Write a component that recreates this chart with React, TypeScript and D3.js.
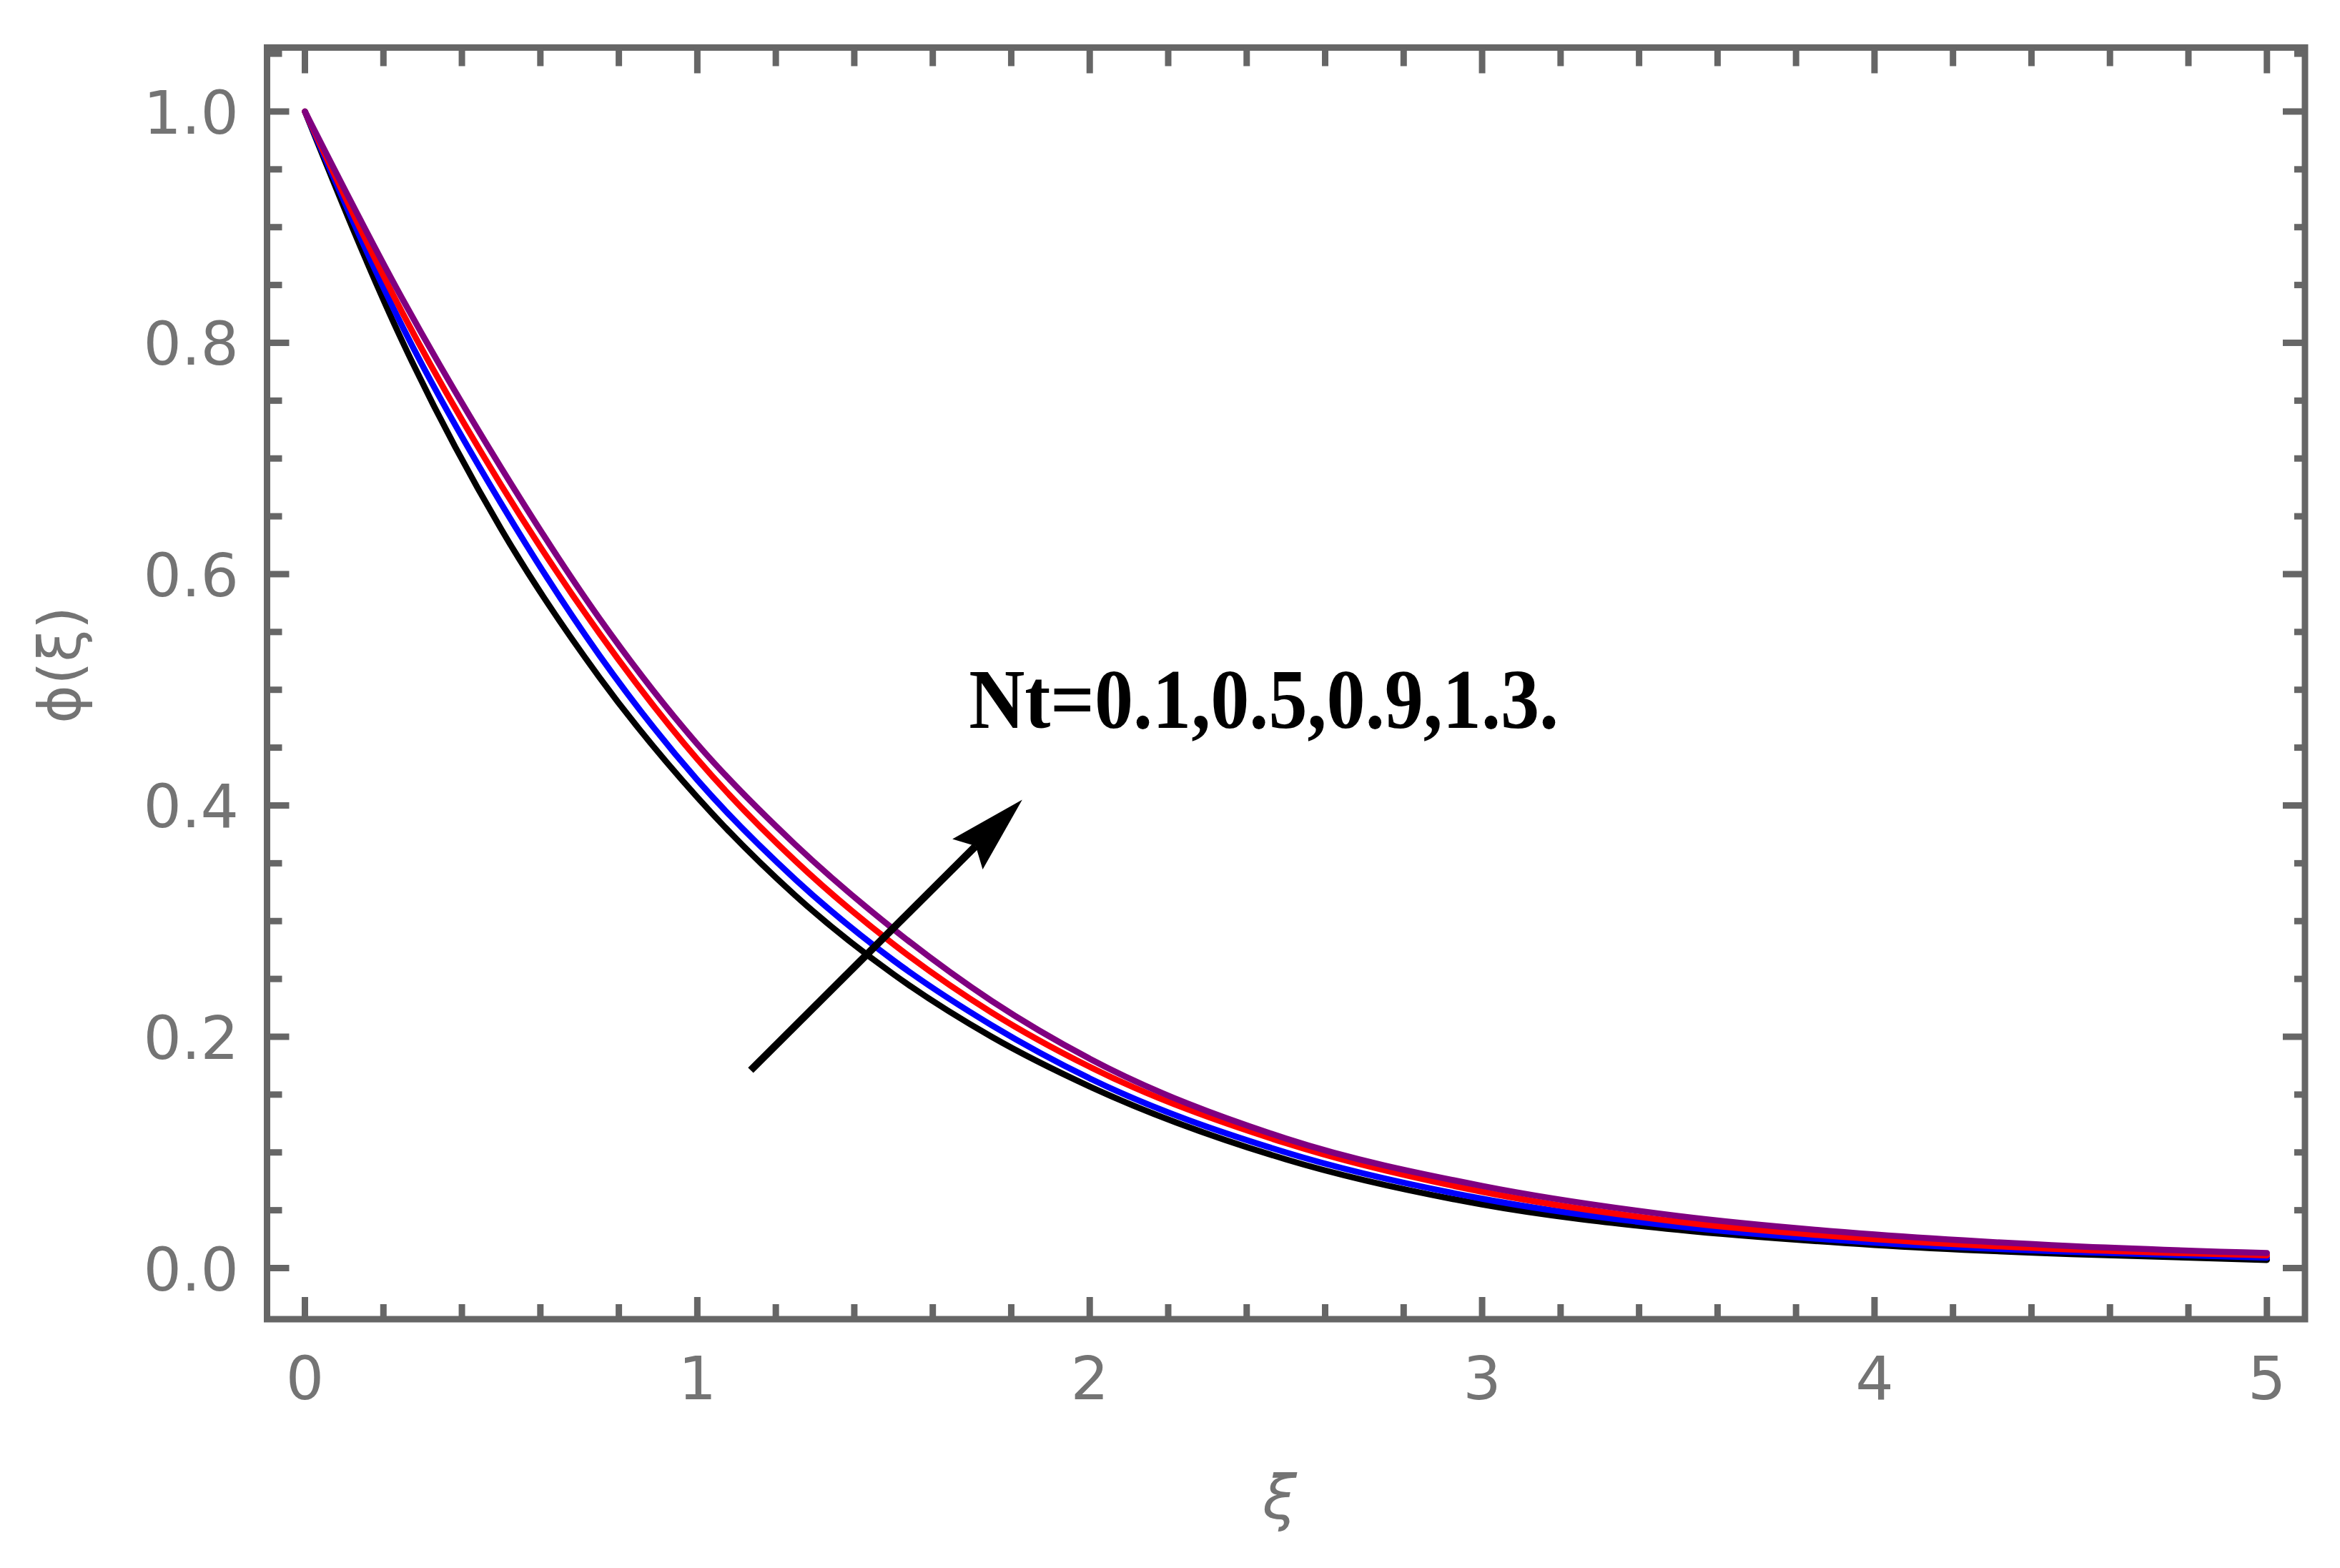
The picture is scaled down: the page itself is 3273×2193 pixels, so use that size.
import * as d3 from 'd3'

// concentration profiles phi(xi) for Nt = 0.1, 0.5, 0.9, 1.3
const xiGrid = [0, 0.25, 0.5, 0.75, 1, 1.25, 1.5, 1.75, 2, 2.5, 3, 3.5, 4, 4.5, 5]
const phiNt01 = [1, 0.8, 0.639, 0.511, 0.407, 0.322, 0.254, 0.2, 0.157, 0.094, 0.055, 0.033, 0.02, 0.012, 0.007]
const phiNt05 = [1, 0.813, 0.661, 0.53, 0.422, 0.336, 0.266, 0.21, 0.164, 0.1, 0.06, 0.036, 0.022, 0.014, 0.009]
const phiNt09 = [1, 0.825, 0.677, 0.549, 0.44, 0.352, 0.28, 0.221, 0.174, 0.108, 0.066, 0.04, 0.025, 0.016, 0.011]
const phiNt13 = [1, 0.837, 0.692, 0.562, 0.453, 0.366, 0.293, 0.231, 0.181, 0.112, 0.071, 0.045, 0.029, 0.019, 0.013]

const seriesColors = ['#000000', '#0000ff', '#ff0000', '#800080']
const seriesValues = [phiNt01, phiNt05, phiNt09, phiNt13]

const xMajorTicks = [0, 1, 2, 3, 4, 5]
const yMajorTicks = [0, 0.2, 0.4, 0.6, 0.8, 1.0]

// annotation in data units
const annotationText = 'Nt=0.1,0.5,0.9,1.3.'
const arrowFrom = [1.136, 0.171]
const arrowTo = [1.828, 0.405]
const textAt = [1.692, 0.467]

const W = 3273
const H = 2193
const frame = { left: 373.5, right: 3224, top: 66.5, bottom: 1845 }
const frameColor = '#666666'
const labelColor = '#747474'

export default function App() {
  const x = d3.scaleLinear().domain([-0.0966, 5.097]).range([frame.left, frame.right])
  const y = d3.scaleLinear().domain([-0.0442, 1.0553]).range([frame.bottom, frame.top])

  const line = d3.line<[number, number]>()
    .x(d => x(d[0]))
    .y(d => y(d[1]))
    .curve(d3.curveMonotoneX)

  const xMinor = d3.range(0, 5.0001, 0.2).filter(v => !xMajorTicks.some(t => Math.abs(t - v) < 1e-6))
  const yMinor = d3.range(0, 1.0501, 0.05).filter(v => !yMajorTicks.some(t => Math.abs(t - v) < 1e-6))

  const majLen = 31
  const minLen = 21
  const fmtY = d3.format('.1f')

  // arrow geometry
  const ax0 = x(arrowFrom[0]), ay0 = y(arrowFrom[1])
  const ax1 = x(arrowTo[0]), ay1 = y(arrowTo[1])
  const ang = Math.atan2(ay1 - ay0, ax1 - ax0)
  const headLen = 108
  const headHalf = 30
  const ux = Math.cos(ang), uy = Math.sin(ang)
  const px = -uy, py = ux
  const bx = ax1 - ux * headLen, by = ay1 - uy * headLen
  const nx = ax1 - ux * headLen * 0.85, ny = ay1 - uy * headLen * 0.85
  const head = [
    [ax1, ay1],
    [bx + px * headHalf, by + py * headHalf],
    [nx, ny],
    [bx - px * headHalf, by - py * headHalf],
  ].map(p => p.join(',')).join(' ')

  return (
    <svg width={W} height={H} style={{ position: 'absolute', left: 0, top: 0, background: '#fff' }}>
      <rect x={0} y={0} width={W} height={H} fill="#fff" />

      {/* curves */}
      <g fill="none" strokeWidth={8.5} strokeLinejoin="round" strokeLinecap="round">
        {seriesValues.map((vals, i) => (
          <path
            key={i}
            d={line(xiGrid.map((xi, j) => [xi, vals[j]] as [number, number])) || ''}
            stroke={seriesColors[i]}
          />
        ))}
      </g>

      {/* annotation */}
      <line x1={ax0} y1={ay0} x2={nx} y2={ny} stroke="#000" strokeWidth={10.5} />
      <polygon points={head} fill="#000" />
      <text
        x={x(textAt[0])}
        y={y(textAt[1])}
        fontFamily="'Liberation Serif', 'Times New Roman', serif"
        fontWeight="bold"
        fontSize={118}
        textLength={825}
        lengthAdjust="spacingAndGlyphs"
        fill="#000"
      >
        {annotationText}
      </text>

      {/* frame */}
      <rect
        x={frame.left}
        y={frame.top}
        width={frame.right - frame.left}
        height={frame.bottom - frame.top}
        fill="none"
        stroke={frameColor}
        strokeWidth={9}
      />

      {/* ticks */}
      <g stroke={frameColor} strokeWidth={9}>
        {xMajorTicks.map(t => (
          <g key={'xM' + t}>
            <line x1={x(t)} x2={x(t)} y1={frame.bottom} y2={frame.bottom - majLen} />
            <line x1={x(t)} x2={x(t)} y1={frame.top} y2={frame.top + majLen + 5} />
          </g>
        ))}
        {xMinor.map(t => (
          <g key={'xm' + t}>
            <line x1={x(t)} x2={x(t)} y1={frame.bottom} y2={frame.bottom - minLen} />
            <line x1={x(t)} x2={x(t)} y1={frame.top} y2={frame.top + minLen + 5} />
          </g>
        ))}
        {yMajorTicks.map(t => (
          <g key={'yM' + t}>
            <line x1={frame.left} x2={frame.left + majLen} y1={y(t)} y2={y(t)} />
            <line x1={frame.right} x2={frame.right - majLen} y1={y(t)} y2={y(t)} />
          </g>
        ))}
        {yMinor.map(t => (
          <g key={'ym' + t}>
            <line x1={frame.left} x2={frame.left + minLen} y1={y(t)} y2={y(t)} />
            <line x1={frame.right} x2={frame.right - minLen + 6} y1={y(t)} y2={y(t)} />
          </g>
        ))}
      </g>

      {/* tick labels */}
      <g fontFamily="'DejaVu Sans', sans-serif" fontSize={84} fill={labelColor}>
        {xMajorTicks.map(t => (
          <text key={'xl' + t} x={x(t)} y={1957} textAnchor="middle">
            {t}
          </text>
        ))}
        {yMajorTicks.map(t => (
          <text key={'yl' + t} x={334} y={y(t) + 31} textAnchor="end">
            {fmtY(t)}
          </text>
        ))}
      </g>

      {/* axis labels */}
      <text
        x={1790}
        y={2124}
        textAnchor="middle"
        fontFamily="'DejaVu Sans', sans-serif"
        fontStyle="italic"
        fontSize={86}
        fill={labelColor}
      >
        ξ
      </text>
      <text
        transform="translate(112,930) rotate(-90)"
        textAnchor="middle"
        fontFamily="'DejaVu Sans', sans-serif"
        fontSize={82}
        fill={labelColor}
      >
        ϕ(ξ)
      </text>
    </svg>
  )
}
